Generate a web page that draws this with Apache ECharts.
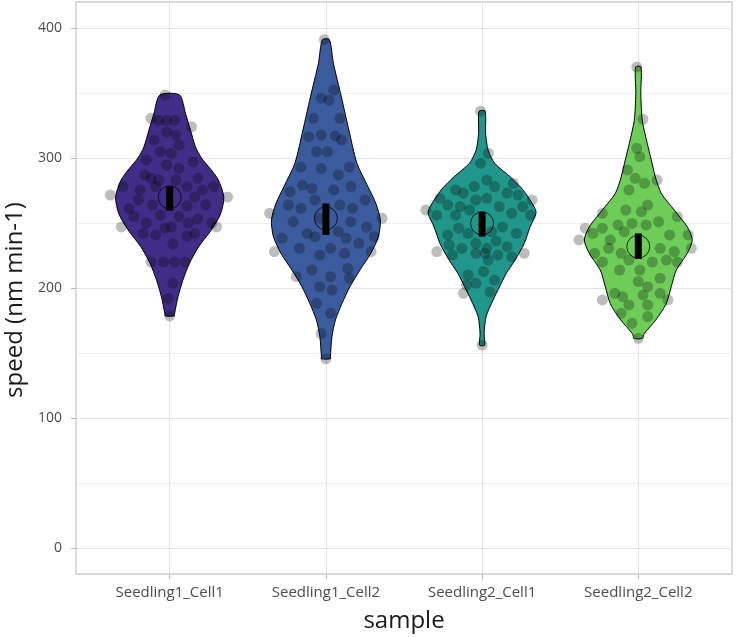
<!DOCTYPE html>
<html><head><meta charset="utf-8">
<script src="https://cdn.jsdelivr.net/npm/echarts@6/dist/echarts.min.js"></script>
<style>html,body{margin:0;padding:0;background:#fff}#c{width:736px;height:637px}</style>
</head><body><div id="c"></div>
<script>
// ---------- data ----------
const categories = ['Seedling1_Cell1', 'Seedling1_Cell2', 'Seedling2_Cell1', 'Seedling2_Cell2'];
const yTicks = [0, 100, 200, 300, 400];
const yMinorTicks = [50, 150, 250, 350];
const colors = ['#3F2D87', '#3B5B9E', '#21968B', '#6DCD58'];

// violin outlines: speed grid and normalised density (1 = widest)
const v1Speed = [348.5, 334, 321.5, 308.7, 300, 290.8, 283, 270, 257, 244.6, 231.8, 219, 206, 193, 180.5, 178.5];
const v1Dens  = [0.18, 0.29, 0.38, 0.47, 0.58, 0.76, 0.89, 0.99, 0.93, 0.76, 0.53, 0.36, 0.24, 0.15, 0.09, 0.08];
const v2Speed = [391, 372.8, 347, 321.5, 296, 278, 265, 252.3, 239.5, 226.7, 213.8, 201, 188, 175.4, 162.5, 147, 145.5];
const v2Dens  = [0.064, 0.137, 0.283, 0.42, 0.567, 0.768, 0.914, 0.996, 0.96, 0.823, 0.622, 0.439, 0.293, 0.174, 0.11, 0.082, 0.082];
const v3Speed = [336, 319, 306, 296, 285.6, 275.4, 262.5, 257.5, 247, 234, 221.5, 211, 201, 190.8, 178, 165, 156];
const v3Dens  = [0.055, 0.064, 0.11, 0.229, 0.512, 0.75, 0.951, 0.987, 0.878, 0.768, 0.603, 0.439, 0.32, 0.201, 0.073, 0.037, 0.046];
const v4Speed = [370, 349.7, 329, 311, 298.5, 285.6, 272.8, 260, 247, 237, 226.7, 213.8, 201, 188, 175.4, 165, 161.3];
const v4Dens  = [0.049, 0.046, 0.073, 0.165, 0.238, 0.311, 0.42, 0.658, 0.896, 0.987, 0.896, 0.695, 0.603, 0.512, 0.32, 0.11, 0.073];

// jittered observations: [horizontal jitter, speed]
const pts1 = [[-0.03,348.5],[-0.12,330.5],[-0.07,329],[-0.02,329],[0.03,329],[0.14,324],[-0.02,320],[0.04,317.7],[-0.10,313.8],[0.06,310],
  [-0.06,304.8],[0.01,303.6],[-0.15,298.5],[-0.02,294.6],[0.06,292],[0.15,297],[-0.16,287],[-0.12,284.4],[-0.07,283],[0.04,283],
  [0.18,284.4],[-0.30,278],[-0.19,275.4],[-0.09,278],[0.11,278],[0.21,275.4],[0.28,278],[-0.38,271.5],[0.37,270],[-0.26,261],
  [-0.20,267.7],[-0.11,264],[0.16,270],[0.23,264],[0.11,263],[-0.31,247],[-0.23,255],[-0.15,250],[-0.06,256],[0.06,255],
  [0.12,250],[0.18,253],[0.27,250],[0.30,247],[-0.17,242],[-0.09,240.8],[-0.03,246],[0.01,247],[0.11,240],[0.16,242],
  [0.02,234],[-0.12,220],[-0.04,220],[0.03,220],[0.10,220],[0.02,203.6],[-0.01,192],[0.00,178.5]];
const pts2 = [[-0.01,391],[0.05,352.3],[-0.03,346],[0.02,344.6],[-0.08,330.5],[0.09,330.5],[-0.11,316.4],[-0.03,317.7],[0.06,317],[0.10,313.8],
  [-0.06,304.8],[0.01,304.8],[-0.16,293],[-0.03,292],[0.08,287],[0.15,293],[-0.15,279],[-0.09,276.7],[0.05,275.4],[0.16,278],
  [-0.23,274.1],[-0.07,267.7],[0.25,267.7],[-0.24,263.8],[-0.16,261.3],[0.09,263.8],[0.17,261.3],[-0.36,257.5],[-0.21,251],[-0.04,253.6],
  [0.16,251],[0.26,247],[0.36,253.6],[-0.28,238.2],[-0.12,242],[-0.07,239.5],[0.08,243.3],[0.13,238.2],[0.21,234.4],[0.31,239.5],
  [-0.33,228],[-0.17,230.5],[-0.04,225.4],[0.03,230.5],[0.12,226.7],[0.29,228],[-0.19,208.7],[-0.09,213.8],[0.03,208.7],[0.14,215],
  [0.15,207.5],[-0.04,201],[0.04,198.5],[-0.06,188.2],[0.03,180.5],[-0.03,165],[0.00,145.5]];
const pts3 = [[-0.01,336],[0.04,303.6],[-0.01,296],[0.03,283],[0.08,278],[-0.05,278],[-0.12,273],[-0.17,275.4],[0.20,280.5],[0.16,273],
  [0.23,271.5],[-0.27,269],[0.32,267.7],[-0.22,263.8],[-0.14,262.6],[-0.08,260],[-0.04,267.7],[0.03,269],[0.11,262.6],[-0.36,260],
  [-0.29,256],[-0.17,256],[0.19,257.5],[0.26,262.6],[0.31,256],[-0.15,246],[-0.09,242],[0.06,243.3],[0.13,247],[0.22,242],
  [-0.22,240.8],[-0.21,233],[-0.13,230.5],[-0.04,234.4],[0.03,230.5],[0.09,236],[0.16,231.8],[0.19,224],[-0.29,228],[0.27,226.7],
  [-0.19,225.4],[-0.04,226.7],[0.02,226.7],[0.10,225.4],[0.04,221.5],[-0.09,210],[0.01,212.6],[0.08,206],[-0.10,202.3],[-0.04,203.6],
  [-0.12,195.9],[0.05,197],[0.00,156]];
const pts4 = [[-0.01,370],[0.03,329.8],[-0.01,307.5],[0.01,301],[-0.07,290.8],[-0.02,284.4],[0.04,280.5],[0.12,283],[-0.06,275.4],[0.06,263.8],
  [0.02,258.7],[-0.08,260],[-0.23,257.5],[0.25,255],[0.13,251],[-0.13,248.5],[-0.04,249.7],[-0.34,246],[-0.29,242],[-0.23,246],
  [-0.18,237],[-0.09,243.3],[0.05,248.5],[0.20,240.8],[0.32,240.8],[-0.38,237],[-0.19,230.5],[-0.11,226.7],[0.14,230.5],[0.23,228],
  [0.34,230.5],[-0.28,226.7],[-0.23,220],[-0.06,221.5],[0.01,213.8],[0.09,220],[0.18,221.5],[0.25,220],[-0.12,213.8],[0.14,207.5],
  [0.06,201],[0.00,205],[-0.23,190.8],[-0.15,195.9],[-0.10,193.3],[-0.06,187],[0.03,194.6],[0.14,195.9],[0.19,190.8],[0.06,187],
  [-0.11,180.5],[-0.04,172.8],[0.06,178],[0.00,161.3]];

const means = [269.8, 253.6, 249.7, 231.8];
const seLow = [259.5, 240.8, 239.5, 222.3];
const seHigh = [278, 265, 258.7, 242];

// ---------- chart ----------
const violinSpeeds = [v1Speed, v2Speed, v3Speed, v4Speed];
const violinDens = [v1Dens, v2Dens, v3Dens, v4Dens];
const allPts = [pts1, pts2, pts3, pts4];
const HALF = 0.35;
const FONT = '"Open Sans", "Noto Sans", sans-serif';

const chart = echarts.init(document.getElementById('c'), null, {renderer: 'canvas'});

const violinSeries = {
  type: 'custom',
  xAxisIndex: 0, yAxisIndex: 0,
  data: categories.map((c, i) => [i + 1, means[i]]),
  z: 2,
  renderItem: function (params, api) {
    const i = params.dataIndex;
    const sp = violinSpeeds[i], d = violinDens[i], cx = i + 1;
    const right = sp.map((v, k) => api.coord([cx + d[k] * HALF, v]));
    const left = sp.map((v, k) => api.coord([cx - d[k] * HALF, v])).reverse();
    return {
      type: 'polygon',
      shape: {points: right.concat(left), smooth: 0.25},
      style: {fill: colors[i], stroke: '#000', lineWidth: 1}
    };
  }
};

const pointSeries = {
  type: 'scatter',
  xAxisIndex: 0, yAxisIndex: 0,
  z: 3,
  symbol: 'circle',
  symbolSize: 11,
  itemStyle: {color: 'rgba(0,0,0,0.32)'},
  data: allPts.flatMap((arr, i) => arr.map(p => [i + 1 + p[0], p[1]])),
  silent: true
};

const seSeries = {
  type: 'custom',
  xAxisIndex: 0, yAxisIndex: 0,
  z: 4,
  data: categories.map((c, i) => [i + 1, seLow[i], seHigh[i]]),
  renderItem: function (params, api) {
    const lo = api.coord([api.value(0), api.value(1)]);
    const hi = api.coord([api.value(0), api.value(2)]);
    return {type: 'rect', shape: {x: lo[0] - 3.5, y: hi[1], width: 7, height: lo[1] - hi[1]}, style: {fill: '#000'}};
  }
};

const meanSeries = {
  type: 'scatter',
  xAxisIndex: 0, yAxisIndex: 0,
  z: 5,
  symbol: 'circle',
  symbolSize: 23,
  itemStyle: {color: 'rgba(0,0,0,0)', borderColor: '#000', borderWidth: 1},
  data: categories.map((c, i) => [i + 1, means[i]]),
  silent: true
};

const option = {
  backgroundColor: '#fff',
  animation: false,
  grid: {left: 76, right: 4, top: 2, bottom: 63, outerBoundsMode: 'none', containLabel: false,
         show: true, borderColor: '#b3b3b3', borderWidth: 1, backgroundColor: 'transparent'},
  graphic: [{
    type: 'text', silent: true,
    x: 15, y: 300, rotation: Math.PI / 2,
    style: {text: 'speed (nm min-1)', font: '24px ' + FONT, fill: '#1a1a1a', align: 'center', verticalAlign: 'middle'}
  }],
  xAxis: [{
    type: 'value', min: 0.4, max: 4.6,
    name: 'sample', nameLocation: 'middle', nameGap: 35,
    nameTextStyle: {fontFamily: FONT, fontSize: 24, color: '#1a1a1a'},
    axisLine: {show: false, onZero: false},
    axisTick: {show: true, length: 5, lineStyle: {color: '#b3b3b3'}, customValues: [1, 2, 3, 4]},
    axisLabel: {customValues: [1, 2, 3, 4], formatter: v => categories[Math.round(v) - 1], fontFamily: FONT, fontSize: 15, color: '#4d4d4d', margin: 11},
    splitLine: {show: true, lineStyle: {color: '#e3e3e3', width: 1}}
  }],
  yAxis: [{
    type: 'value', min: -20, max: 420,
    axisLine: {show: false, onZero: false},
    axisTick: {show: true, length: 5, lineStyle: {color: '#b3b3b3'}, customValues: yTicks},
    axisLabel: {customValues: yTicks, fontFamily: FONT, fontSize: 14, color: '#4d4d4d', margin: 14},
    splitLine: {show: true, lineStyle: {color: '#e3e3e3', width: 1}}
  }, {
    type: 'value', min: -20, max: 420, position: 'left',
    axisLine: {show: false, onZero: false}, axisTick: {show: false, customValues: yMinorTicks},
    axisLabel: {show: false, customValues: yMinorTicks},
    splitLine: {show: true, lineStyle: {color: '#ececec', width: 1}}
  }],
  series: [violinSeries, pointSeries, seSeries, meanSeries]
};
chart.setOption(option);
</script>
</body></html>
